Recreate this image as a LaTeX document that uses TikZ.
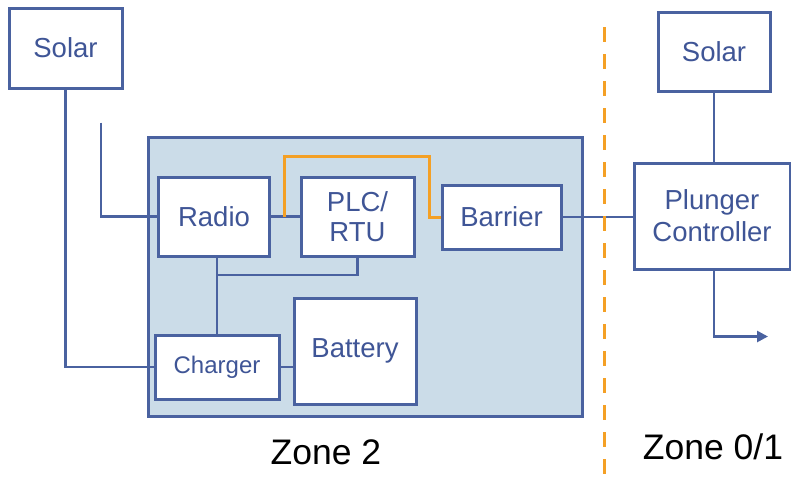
\documentclass[tikz,border=0pt]{standalone}
\usepackage{fontspec}
\setmainfont{Liberation Sans}
\usetikzlibrary{arrows.meta}
\definecolor{bblue}{HTML}{4A62A0}
\definecolor{tblue}{HTML}{3F5596}
\definecolor{zfill}{HTML}{CBDCE8}
\definecolor{zorange}{HTML}{F4A025}
\begin{document}
\begin{tikzpicture}[x=1pt,y=-1pt,
  box/.style={draw=bblue, line width=3pt, fill=white, text=tblue, inner sep=0pt, align=center, font=\fontsize{27.5}{31}\selectfont},
  conn/.style={draw=bblue, line width=2.6pt},
  sig/.style={draw=zorange, line width=3pt},
  zonelbl/.style={text=black, font=\fontsize{35.5}{40}\selectfont, inner sep=0pt}]
\useasboundingbox (0,0) rectangle (791,480);
% zone 2 area
\node[draw=bblue, line width=3pt, fill=zfill, minimum width=434pt, minimum height=279pt, inner sep=0pt] (zone) at (365,276.5) {};
% coordinates
\coordinate (radioIn) at (101,122.5);
\coordinate (junc) at (217,275);
\coordinate (arrowEnd) at (768,336.5);
\coordinate (dashTop) at (604,27);
\coordinate (dashBot) at (604,474);
% boxes
\node[box, minimum width=113pt, minimum height=80pt] (solarL) at (65.5,48) {Solar};
\node[box, minimum width=111pt, minimum height=79pt] (radio) at (214,216.5) {Radio};
\node[box, minimum width=113pt, minimum height=79pt] (plc) at (357.5,216.5) {PLC/\\[-1pt]RTU};
\node[box, minimum width=119pt, minimum height=64pt] (barrier) at (501.5,217) {Barrier};
\node[box, minimum width=124pt, minimum height=64pt, font=\fontsize{24}{28}\selectfont] (charger) at (217,367) {Charger};
\node[box, minimum width=122pt, minimum height=106pt] (battery) at (355,351) {Battery};
\node[box, minimum width=112pt, minimum height=79pt] (solarR) at (714,52) {Solar};
\node[box, minimum width=156pt, minimum height=106pt] (plunger) at (712,216) {Plunger\\[1pt]Controller};
% connectors
\draw[conn] (solarL.south) |- (charger.west);
\draw[conn] (radioIn) |- (radio.west);
\draw[conn] (radio.east) -- (plc.west);
\draw[conn] (radio.south -| junc) -- (charger.north -| junc);
\draw[conn] (junc) -| (plc.south);
\draw[conn] (charger.east) -- (charger.east -| battery.west);
\draw[conn] (barrier.east) -- (barrier.east -| plunger.west);
\draw[conn] (solarR.south) -- (solarR.south |- plunger.north);
\draw[conn, -{Triangle[length=11pt,width=11pt]}] (plunger.south -| solarR.south) |- (arrowEnd);
% orange signal path
\coordinate (o1) at (284,216.5);
\coordinate (o2) at (284,156);
\coordinate (o3) at (429,156);
\draw[sig] (o1) -- (o2) -- (o3) |- (barrier.west);
% zone separator
\draw[zorange, line width=3pt, dash pattern=on 15pt off 12pt] (dashTop) -- (dashBot);
% zone labels
\node[zonelbl] (z2) at (326,452) {Zone 2};
\node[zonelbl] (z01) at (713,447) {Zone 0/1};
\end{tikzpicture}
\end{document}
